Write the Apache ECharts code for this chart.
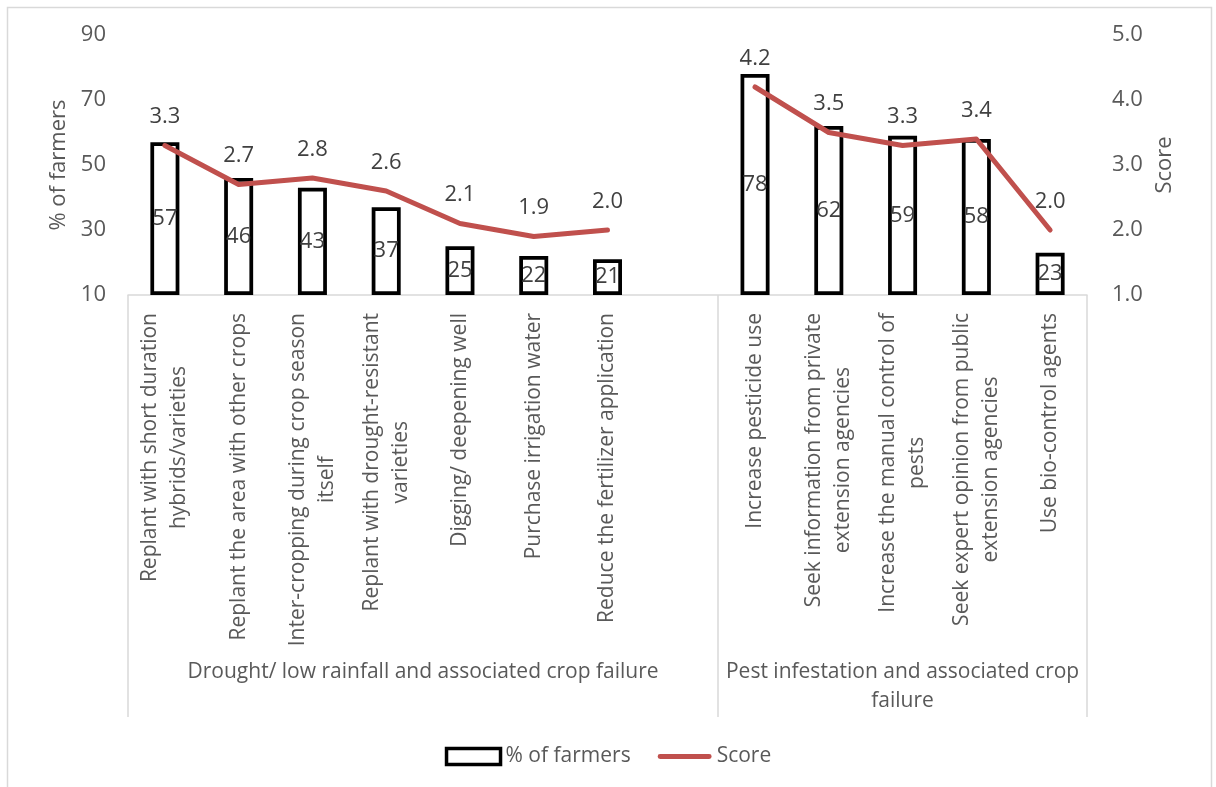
<!DOCTYPE html>
<html>
<head>
<meta charset="utf-8">
<script src="https://cdn.jsdelivr.net/npm/echarts@6/dist/echarts.min.js"></script>
<style>
  html, body { margin: 0; padding: 0; background: #fff; }
  #chart { width: 1216px; height: 787px; }
</style>
</head>
<body>
<div id="chart"></div>
<script>
// Adaptation strategies, grouped by the hazard they respond to.
// The empty slot separates the two groups on the category axis.
const categories = [
  'Replant with short duration\nhybrids/varieties',
  'Replant the area with other crops',
  'Inter-cropping during crop season\nitself',
  'Replant with drought-resistant\nvarieties',
  'Digging/ deepening well',
  'Purchase irrigation water',
  'Reduce the fertilizer application',
  '',
  'Increase pesticide use',
  'Seek information from private\nextension agencies',
  'Increase the manual control of\npests',
  'Seek expert opinion from public\nextension agencies',
  'Use bio-control agents'
];

const farmersPct = [57, 46, 43, 37, 25, 22, 21, null, 78, 62, 59, 58, 23];
const score = [3.3, 2.7, 2.8, 2.6, 2.1, 1.9, 2.0, null, 4.2, 3.5, 3.3, 3.4, 2.0];

// Group headings: label, first category index, end index (exclusive)
const groupNames = [
  'Drought/ low rainfall and associated crop failure',
  'Pest infestation and associated crop\nfailure'
];
const groupStarts = [0, 8];
const groupEnds = [8, 13];

const leftTicks = [10, 30, 50, 70, 90];
const rightTicks = [1.0, 2.0, 3.0, 4.0, 5.0];

const FONT = '"Open Sans", "DejaVu Sans", sans-serif';
const AXIS_TEXT = '#595959';
const LABEL_TEXT = '#404040';
const LINE_COLOR = '#C0504D';
const GRID_GRAY = '#d9d9d9';

const groupCenters = groupStarts.map((s, i) => (s + groupEnds[i]) / 2);
const groupEdges = [groupStarts[0]].concat(groupEnds);

const chart = echarts.init(document.getElementById('chart'), null, { renderer: 'canvas' });

chart.setOption({
  animation: false,
  backgroundColor: '#fff',
  textStyle: { fontFamily: FONT },
  graphic: [{
    type: 'rect',
    silent: true,
    shape: { x: 7.5, y: 7.5, width: 1204, height: 800 },
    style: { fill: 'none', stroke: GRID_GRAY, lineWidth: 1.5 }
  }],
  grid: { left: 128, right: 129, top: 35, bottom: 492, containLabel: false },
  legend: {
    top: 746,
    left: 'center',
    padding: 0,
    itemGap: 27,
    itemWidth: 54,
    itemHeight: 16,
    textStyle: { color: AXIS_TEXT, fontSize: 21, fontFamily: FONT },
    data: [
      { name: '% of farmers', icon: 'rect',
        itemStyle: { color: '#fff', borderColor: '#000', borderWidth: 3.5 } },
      { name: 'Score', icon: 'path://M2,0 L52,0 A2.5,2.5 0 0 1 52,5 L2,5 A2.5,2.5 0 0 1 2,0 Z',
        itemStyle: { color: LINE_COLOR, borderWidth: 0 } }
    ]
  },
  xAxis: [{
    type: 'category',
    data: categories,
    position: 'bottom',
    boundaryGap: true,
    axisLine: { show: true, lineStyle: { color: GRID_GRAY, width: 1.5 } },
    axisTick: { show: false },
    axisLabel: {
      interval: 0,
      rotate: 90,
      margin: 18,
      formatter: v => v.split('\n').map(s => '{c|' + s + '}').join('\n'),
      rich: {
        c: { fontSize: 21, lineHeight: 29, color: AXIS_TEXT, align: 'center', fontFamily: FONT }
      }
    }
  }, {
    type: 'value',
    min: 0,
    max: categories.length,
    position: 'bottom',
    splitLine: { show: false },
    axisLine: { show: false },
    axisTick: {
      show: true,
      customValues: groupEdges,
      length: 422,
      lineStyle: { color: GRID_GRAY, width: 1.5 }
    },
    axisLabel: {
      customValues: groupCenters,
      margin: 363,
      fontSize: 21,
      lineHeight: 29,
      color: AXIS_TEXT,
      fontFamily: FONT,
      verticalAlign: 'top',
      formatter: v => {
        const i = groupCenters.indexOf(v);
        return i >= 0 ? groupNames[i] : '';
      }
    }
  }],
  yAxis: [{
    type: 'value',
    position: 'left',
    min: leftTicks[0],
    max: leftTicks[leftTicks.length - 1],
    interval: leftTicks[1] - leftTicks[0],
    startValue: leftTicks[0],
    name: '% of farmers',
    nameLocation: 'middle',
    nameGap: 55,
    nameTextStyle: { color: AXIS_TEXT, fontSize: 22, fontFamily: FONT },
    splitLine: { show: false },
    axisLine: { show: false },
    axisTick: { show: false },
    axisLabel: { color: AXIS_TEXT, fontSize: 22, margin: 22, fontFamily: FONT }
  }, {
    type: 'value',
    position: 'right',
    min: rightTicks[0],
    max: rightTicks[rightTicks.length - 1],
    interval: rightTicks[1] - rightTicks[0],
    name: 'Score',
    nameLocation: 'middle',
    nameGap: 65,
    nameTextStyle: { color: AXIS_TEXT, fontSize: 22, fontFamily: FONT },
    splitLine: { show: false },
    axisLine: { show: false },
    axisTick: { show: false },
    axisLabel: { color: AXIS_TEXT, fontSize: 22, margin: 25, fontFamily: FONT,
      formatter: v => v.toFixed(1) }
  }],
  series: [{
    name: '% of farmers',
    type: 'bar',
    xAxisIndex: 0,
    yAxisIndex: 0,
    data: farmersPct,
    barWidth: 29,
    itemStyle: { color: '#fff', borderColor: '#000', borderWidth: 3.75 },
    label: {
      show: true,
      position: 'inside',
      color: LABEL_TEXT,
      fontSize: 22,
      fontFamily: FONT
    }
  }, {
    name: 'Score',
    type: 'line',
    xAxisIndex: 0,
    yAxisIndex: 1,
    data: score,
    connectNulls: false,
    symbol: 'circle',
    symbolSize: 1,
    showSymbol: true,
    itemStyle: { color: LINE_COLOR },
    lineStyle: { color: LINE_COLOR, width: 5, cap: 'round', join: 'round' },
    label: {
      show: true,
      position: 'top',
      distance: 17,
      color: LABEL_TEXT,
      fontSize: 22,
      fontFamily: FONT,
      formatter: p => p.value == null ? '' : Number(p.value).toFixed(1)
    }
  }]
});
</script>
</body>
</html>
